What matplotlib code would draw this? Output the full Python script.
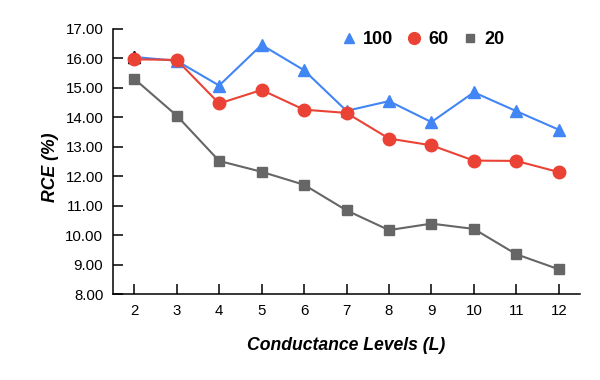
import matplotlib
matplotlib.use("Agg")
import matplotlib.pyplot as plt
from matplotlib.lines import Line2D

plt.rcParams['font.family'] = ['Liberation Sans', 'DejaVu Sans']

levels = [2, 3, 4, 5, 6, 7, 8, 9, 10, 11, 12]
s100 = [16.05, 15.92, 15.08, 16.46, 15.60, 14.22, 14.55, 13.84, 14.85, 14.21, 13.58]
s60 = [15.97, 15.95, 14.47, 14.93, 14.26, 14.15, 13.28, 13.05, 12.53, 12.52, 12.14]
s20 = [15.31, 14.06, 12.52, 12.15, 11.71, 10.84, 10.17, 10.39, 10.21, 9.35, 8.84]
series_names = ['100', '60', '20']
yticks = [8, 9, 10, 11, 12, 13, 14, 15, 16, 17]

c_blue = '#4285F4'
c_red = '#EA4335'
c_gray = '#666666'

fig = plt.figure(figsize=(6, 3.8), dpi=100)
ax = fig.add_axes([113/600, 1-294/380, (580-113)/600, (294-29)/380])

ax.plot(levels, s100, color=c_blue, lw=1.5, marker='^', ms=8.5, mec=c_blue, mfc=c_blue, zorder=3)
ax.plot(levels[:1], s100[:1], ls='none', marker='^', ms=8.5, color='black', zorder=3.5)
ax.plot(levels, s60, color=c_red, lw=1.5, marker='o', ms=9, mec=c_red, mfc=c_red, zorder=4)
ax.plot(levels, s20, color=c_gray, lw=1.5, marker='s', ms=7.5, mec=c_gray, mfc=c_gray, zorder=2)

ax.set_xlim(1.5, 12.5)
ax.set_ylim(8, 17)
ax.set_xticks(levels)
ax.set_yticks(yticks)
ax.set_yticklabels([f"{v:.2f}" for v in yticks])
for s in ['top', 'right']:
    ax.spines[s].set_visible(False)
for s in ['left', 'bottom']:
    ax.spines[s].set_linewidth(1.1)
    ax.spines[s].set_color('black')
ax.tick_params(axis='both', direction='in', length=7.5, width=1.1, labelsize=10.8, colors='black')
ax.tick_params(axis='y', pad=7)
ax.tick_params(axis='x', pad=7.5)

ax.set_xlabel('Conductance Levels (L)', fontsize=12.7, fontweight='bold', fontstyle='italic', va='center')
ax.set_ylabel('RCE (%)', fontsize=12.7, fontweight='bold', fontstyle='italic', va='center')
ax.xaxis.set_label_coords((346-113)/467, (294-345)/265)
ax.yaxis.set_label_coords((50-113)/467, (294-167)/265)

handles = [
    Line2D([], [], ls='none', marker='^', ms=7.5, color=c_blue),
    Line2D([], [], ls='none', marker='o', ms=8.5, color=c_red),
    Line2D([], [], ls='none', marker='s', ms=5.5, color=c_gray),
]
leg = fig.legend(handles, series_names, loc='center', bbox_to_anchor=(423/600, 1-40/380),
                 ncol=3, frameon=False, handlelength=0.8, handletextpad=0.4, columnspacing=0.75,
                 prop={'weight': 'bold', 'size': 13})

fig.savefig('out.png', dpi=100)
